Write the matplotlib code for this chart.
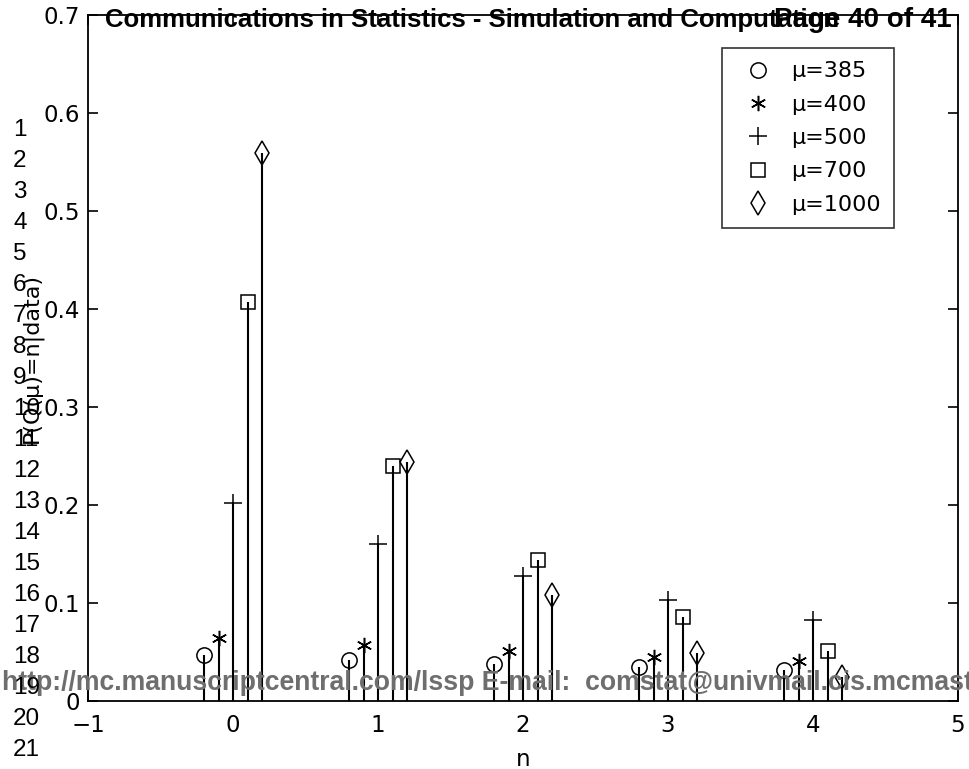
import numpy as np
import matplotlib
matplotlib.use("Agg")
import matplotlib.pyplot as plt

# data
n = [0, 1, 2, 3, 4]
labels = ["\u03bc=385", "\u03bc=400", "\u03bc=500", "\u03bc=700", "\u03bc=1000"]
p385 = [0.047, 0.042, 0.038, 0.035, 0.032]
p400 = [0.064, 0.057, 0.051, 0.045, 0.041]
p500 = [0.202, 0.160, 0.128, 0.103, 0.083]
p700 = [0.407, 0.240, 0.144, 0.086, 0.051]
p1000 = [0.559, 0.244, 0.108, 0.049, 0.024]

series = [p385, p400, p500, p700, p1000]
markers = ["o", (6, 2, 0), "+", "s", "d"]
msizes = [11, 11, 13, 10, 12]
offsets = [-0.2, -0.1, 0.0, 0.1, 0.2]

plt.rcParams['font.family'] = ['DejaVu Sans']

W, H = 969, 769
fig = plt.figure(figsize=(W / 100, H / 100), dpi=100)
ax = fig.add_axes([88 / W, 1 - 701 / H, 870 / W, 686 / H])

for vals, mk, ms, off, lab in zip(series, markers, msizes, offsets, labels):
    xs = np.array(n) + off
    ax.vlines(xs, 0, vals, colors='k', linewidth=1.5)
    ax.plot(xs, vals, marker=mk, ls='none', color='k', mfc='none',
            markersize=ms, markeredgewidth=1.1, label=lab)

ax.set_xlim(-1, 5)
ax.set_ylim(0, 0.7)
ax.set_xticks([-1, 0, 1, 2, 3, 4, 5])
ax.set_xticklabels(["\u22121", "0", "1", "2", "3", "4", "5"])
ax.set_yticks([0, 0.1, 0.2, 0.3, 0.4, 0.5, 0.6, 0.7])
ax.set_yticklabels(["0", "0.1", "0.2", "0.3", "0.4", "0.5", "0.6", "0.7"])
ax.tick_params(direction='in', top=True, right=True, length=7, width=1.2,
               labelsize=16.5, colors='k')
ax.tick_params(axis='x', pad=9)
ax.tick_params(axis='y', pad=6)
for sp in ax.spines.values():
    sp.set_linewidth(1.3)
ax.set_xlabel("n", fontsize=16.5, labelpad=8)
ax.set_ylabel("P(Q(\u03bc)=n|data)", fontsize=16, labelpad=0)

leg = ax.legend(loc='upper left', bbox_to_anchor=(722 / W, 1 - 48 / H),
                bbox_transform=fig.transFigure, borderaxespad=0,
                fontsize=16, frameon=True, fancybox=False, edgecolor='k',
                handlelength=2.0, handletextpad=0.5, borderpad=0.6,
                labelspacing=0.6)
leg.get_frame().set_linewidth(1.2)

# page overlay text
fig.text(105 / W, 1 - 20 / H, "Communications in Statistics - Simulation and Computation",
         fontsize=18.5, fontweight='bold', ha='left', va='center',
         family='Liberation Sans')
fig.text(952 / W, 1 - 20 / H, "Page 40 of 41", fontsize=20, fontweight='bold',
         ha='right', va='center', family='Liberation Sans')
fig.text(2 / W, 1 - 683 / H,
         "http://mc.manuscriptcentral.com/lssp E-mail:  comstat@univmail.cis.mcmaster.ca",
         fontsize=19.2, fontweight='bold', color='#6e6e6e', ha='left', va='center',
         family='Liberation Sans')
for i in range(21):
    fig.text(13 / W, 1 - (130 + i * 31) / H, str(i + 1), fontsize=17.5,
             ha='left', va='center', family='Liberation Sans')

fig.savefig("out.png", dpi=100)
